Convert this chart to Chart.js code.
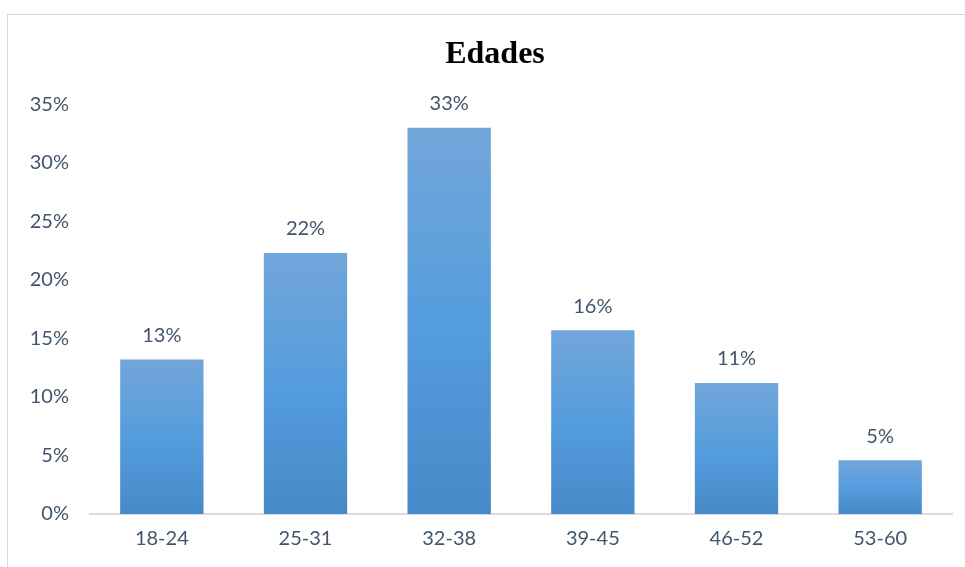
<!DOCTYPE html>
<html>
<head>
<meta charset="utf-8">
<script src="https://cdn.jsdelivr.net/npm/chart.js@4.4.1/dist/chart.umd.min.js"></script>
<style>
  html, body { margin: 0; padding: 0; background: #fff; overflow: hidden; width: 965px; height: 567px; }
  #frame { position: absolute; left: 7px; top: 14px; width: 974px; height: 560px; border-top: 1px solid #d9d9d9; border-left: 1px solid #d9d9d9; }
  #wrap { position: absolute; left: 0; top: 0; width: 974px; height: 553px; }
</style>
</head>
<body>
<div id="frame"><div id="wrap"><canvas id="chart"></canvas></div></div>
<script>
// datos del gráfico
const categorias = ['18-24', '25-31', '32-38', '39-45', '46-52', '53-60'];
const valores = [13.2, 22.3, 33.0, 15.7, 11.2, 4.6];
const etiquetas = ['13%', '22%', '33%', '16%', '11%', '5%'];
const ticksY = [0, 5, 10, 15, 20, 25, 30, 35];

const textColor = '#44546a';
const fontFamily = 'Lato, "Open Sans", sans-serif';

// degradado vertical por barra (como en Excel)
function barGradient(ctx) {
    const chart = ctx.chart;
    const y = chart.scales && chart.scales.y;
    if (!y || !chart.chartArea || ctx.parsed === undefined) return '#5b9bd5';
    const top = y.getPixelForValue(ctx.parsed.y);
    const bottom = y.getPixelForValue(0);
    const g = chart.ctx.createLinearGradient(0, top, 0, bottom);
    g.addColorStop(0, '#72a6da');
    g.addColorStop(0.5, '#559ddd');
    g.addColorStop(1, '#4689c8');
    return g;
}

// etiquetas de datos encima de cada barra
const dataLabels = {
    id: 'dataLabels',
    afterDatasetsDraw(chart) {
        const ctx = chart.ctx;
        const meta = chart.getDatasetMeta(0);
        ctx.save();
        ctx.font = '20px ' + fontFamily;
        ctx.fillStyle = textColor;
        ctx.textAlign = 'center';
        ctx.textBaseline = 'middle';
        meta.data.forEach((bar, i) => {
            ctx.fillText(etiquetas[i], bar.x, bar.y - 24);
        });
        ctx.restore();
    }
};

new Chart(document.getElementById('chart'), {
    type: 'bar',
    data: {
        labels: categorias,
        datasets: [{
            data: valores,
            backgroundColor: barGradient,
            categoryPercentage: 1,
            barPercentage: 0.58
        }]
    },
    options: {
        responsive: true,
        maintainAspectRatio: false,
        animation: false,
        layout: { padding: 0 },
        plugins: {
            legend: { display: false },
            tooltip: { enabled: false },
            title: {
                display: true,
                text: 'Edades',
                color: '#000',
                font: { family: '"Liberation Serif", "Times New Roman", serif', size: 32, weight: 'bold' },
                padding: { top: 21, bottom: 30 }
            }
        },
        scales: {
            x: {
                grid: { display: false, drawTicks: false },
                border: { display: true, color: '#d9dde3', width: 2 },
                ticks: { color: textColor, font: { family: fontFamily, size: 20 }, padding: 13 },
                afterFit(scale) { scale.height = 54; }
            },
            y: {
                min: 0,
                max: 35,
                afterBuildTicks(scale) { scale.ticks = ticksY.map(v => ({ value: v })); },
                grid: { display: false, drawTicks: false },
                border: { display: false },
                ticks: {
                    color: textColor,
                    font: { family: fontFamily, size: 20 },
                    padding: 21,
                    callback: v => v + '%'
                },
                afterFit(scale) { scale.width = 82; }
            },
            // eje vacío a la derecha para reservar margen
            y2: {
                position: 'right',
                display: true,
                grid: { display: false, drawTicks: false },
                border: { display: false },
                ticks: { display: false },
                afterFit(scale) { scale.width = 30; }
            }
        }
    },
    plugins: [dataLabels]
});
</script>
</body>
</html>
